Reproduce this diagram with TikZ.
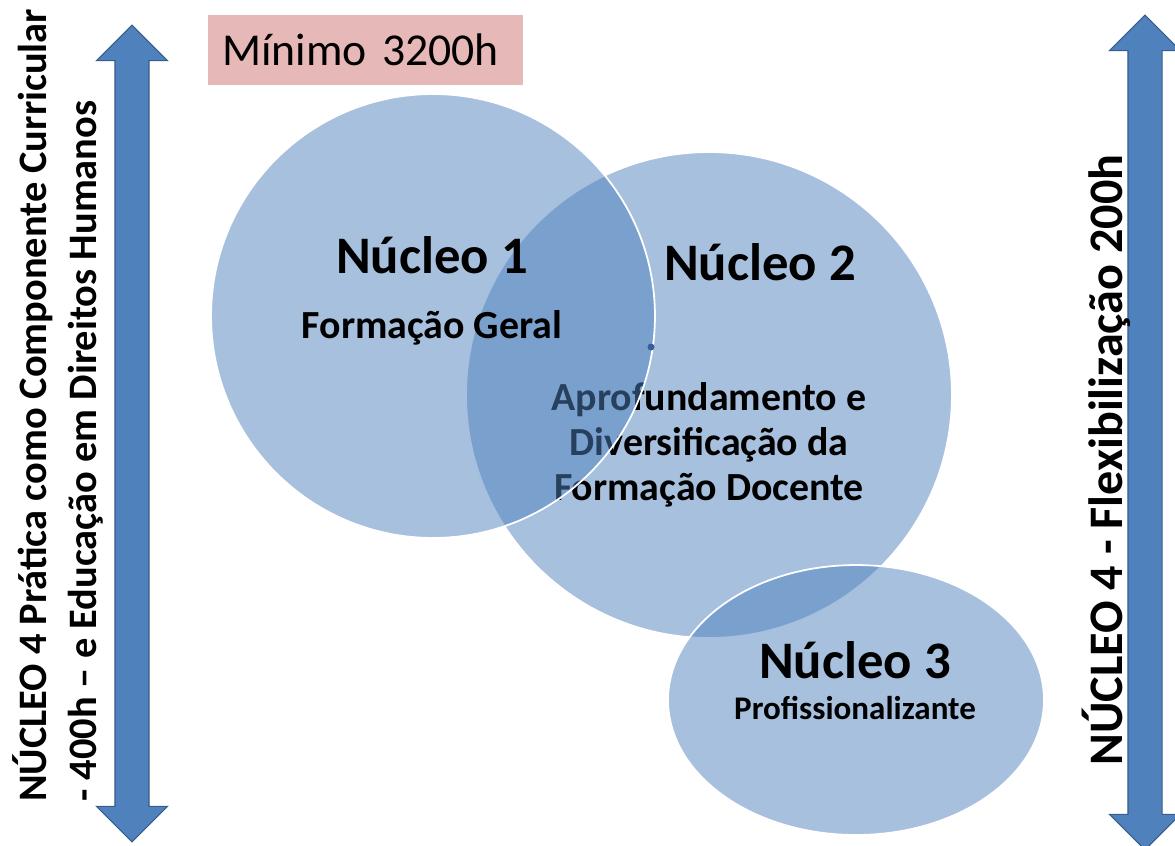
\documentclass[tikz,border=0pt]{standalone}
\usepackage{fontspec}
\setmainfont{Carlito}
\usetikzlibrary{shapes.geometric,shapes.arrows}
\definecolor{ofblue}{RGB}{79,129,189}
\definecolor{ofblueline}{RGB}{56,93,138}
\definecolor{ofrose}{RGB}{230,184,183}
\definecolor{ofdot}{RGB}{58,95,150}
\tikzset{
    sidearrow/.style={
        shape=double arrow,rotate=90,fill=ofblue,draw=ofblueline,
        line width=0.6pt,inner xsep=0pt,inner ysep=0.33cm,
        double arrow head extend=0.37cm,
        minimum width=1.4cm,minimum height=#1
    },
    blob/.style={
        fill=ofblue,fill opacity=0.5,draw=white,draw opacity=1,
        line width=1pt,inner sep=0pt
    },
    title/.style={font=\bfseries\fontsize{30}{36}\selectfont,text=black},
    body/.style={
        font=\bfseries\fontsize{22.7}{25.6}\selectfont,align=center,text=black
    },
    sidetext/.style={
        font=\bfseries\fontsize{23}{28.4}\selectfont,rotate=90,align=left
    }
}

\begin{document}
\begin{tikzpicture}[x=0.02cm,y=-0.02cm]
\useasboundingbox (0,0) rectangle (1175,845);

% side arrows
\node[sidearrow=16.34cm] (leftarrow) at (132,433.5) {};
\node[sidearrow=16.7cm] (rightarrow) at (1145,432.5) {};

\node[sidetext,anchor=west] (lefttext) at (58,808)
{NÚCLEO 4 Prática como Componente Curricular\\- 400h – e Educação em Direitos Humanos};
\node[sidetext,font=\bfseries\fontsize{27.4}{30}\selectfont] (righttext) at (1106,460)
{NÚCLEO 4 - Flexibilização 200h};

% total hours
\node[fill=ofrose,anchor=west,minimum height=1.4cm,inner xsep=0.28cm,
text width=5.74cm,align=left,font=\fontsize{26}{30}\selectfont]
(minimo) at (208,50) {Mínimo 3200h};

% circles
\node[blob,circle,minimum size=9.72cm] (core2) at (709,395) {};
\node[title] (core2title) at (760,262) {Núcleo 2};
\node[body] (core2text) at (709,445)
{Aprofundamento e\\Diversificação da\\Formação Docente};

\node[blob,ellipse,minimum width=7.52cm,minimum height=5.4cm] (core3) at (856,700) {};
\node[title] (core3title) at (855,660) {Núcleo 3};
\node[body,font=\bfseries\fontsize{18.8}{22}\selectfont] (core3text) at (855,708)
{Profissionalizante};

\node[blob,circle,minimum size=8.88cm] (core1) at (433,316) {};
\node[title] (core1title) at (432,255) {Núcleo 1};
\node[body] (core1text) at (432,328) {Formação Geral};

\fill[ofdot] (651,347) circle (3.5);

\end{tikzpicture}
\end{document}
